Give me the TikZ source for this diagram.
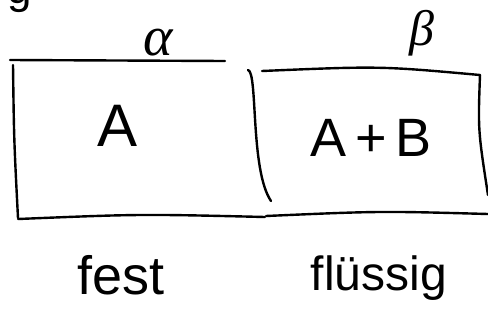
\documentclass[tikz,border=0pt]{standalone}
\usepackage{fontspec}
\setsansfont{Liberation Sans}
\newfontfamily\greekfont{Liberation Serif}
\begin{document}
\begin{tikzpicture}[x=1pt,y=-1pt,line cap=round,line join=round,
    stroke/.style={line width=2.4pt},
    sketchtext/.style={inner sep=0pt,anchor=base},
    bigsans/.style={font=\sffamily\fontsize{#1}{#1}\selectfont},
    greek/.style={font=\greekfont\itshape\fontsize{#1}{#1}\selectfont}]

    % Frame
    \useasboundingbox (0,0) rectangle (488,322);
    \clip (0,0) rectangle (488,322);

    % Heading remnant
    \node[anchor=base west,inner sep=0pt,bigsans=44] (head) at (7,3.5) {g};

    % Left box (solid)
    \draw[stroke] (10,60) -- (225,61);
    \draw[stroke] (13,65) .. controls (14,140) .. (18,218);
    \draw[stroke] (18,219) .. controls (140,214) .. (265,217);

    % Right box (liquid)
    \draw[stroke] (248,70) .. controls (258,72) and (250,170) .. (271,201);
    \draw[stroke] (262,71) .. controls (380,66) .. (480,75);
    \draw[stroke] (480,75) .. controls (478,130) .. (488,195);
    \draw[stroke] (266,216) .. controls (380,211) .. (488,214);

    % Labels
    \node[sketchtext,greek=56] (alpha) at (158,55) {α};
    \node[sketchtext,greek=50] (beta) at (422,45) {β};
    \node[sketchtext,bigsans=60] (a) at (118,146) {A};
    \node[sketchtext,bigsans=54] (aplusb) at (371,156) {A\,+\,B};
    \node[sketchtext,bigsans=54] (fest) at (121,294) {fest};
    \node[sketchtext,bigsans=48] (fluessig) at (379,290) {flüssig};

\end{tikzpicture}
\end{document}
